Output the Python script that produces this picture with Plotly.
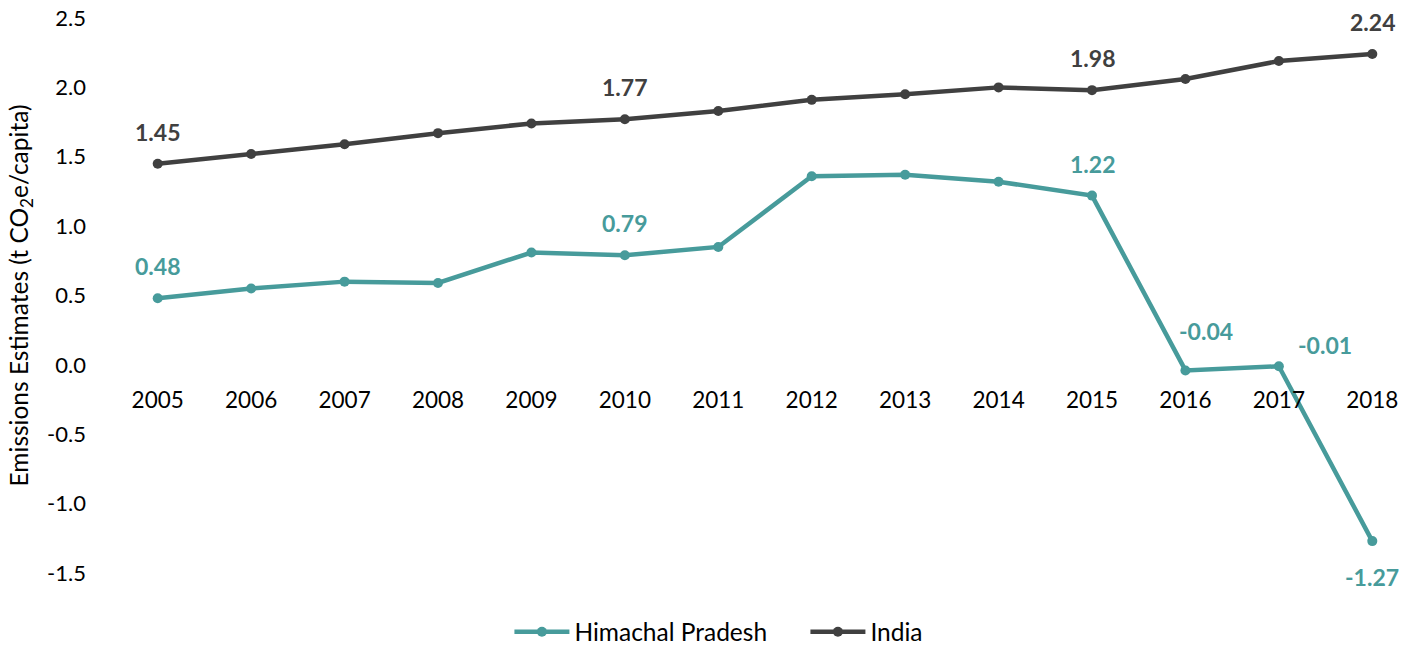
import plotly.graph_objects as go

# Per-capita emissions, t CO2e/capita
years = ["2005", "2006", "2007", "2008", "2009", "2010", "2011",
         "2012", "2013", "2014", "2015", "2016", "2017", "2018"]
himachal = [0.48, 0.55, 0.60, 0.59, 0.81, 0.79, 0.85,
            1.36, 1.37, 1.32, 1.22, -0.04, -0.01, -1.27]
india = [1.45, 1.52, 1.59, 1.67, 1.74, 1.77, 1.83,
         1.91, 1.95, 2.00, 1.98, 2.06, 2.19, 2.24]

# Years that carry a value label, per series
himachal_labelled = ["2005", "2010", "2015", "2016", "2017", "2018"]
india_labelled = ["2005", "2010", "2015", "2018"]

y_tickvals = [-1.5, -1.0, -0.5, 0.0, 0.5, 1.0, 1.5, 2.0, 2.5]
y_ticktext = ["-1.5", "-1.0", "-0.5", "0.0", "0.5", "1.0", "1.5", "2.0", "2.5"]

TEAL = "#479b9b"
DARK = "#404040"
FONT = "Lato"

fig = go.Figure()
fig.add_trace(go.Scatter(
    x=years, y=himachal, name="Himachal Pradesh", mode="lines+markers",
    line=dict(color=TEAL, width=4.5), marker=dict(color=TEAL, size=10),
))
fig.add_trace(go.Scatter(
    x=years, y=india, name="India", mode="lines+markers",
    line=dict(color=DARK, width=4.5), marker=dict(color=DARK, size=10),
))

# Offsets (px) of value labels relative to their points
label_shift = {
    ("hp", "2016"): (21, 39),
    ("hp", "2017"): (46, 21),
    ("hp", "2018"): (0, -36),
}

annotations = []
for key, series, labelled, color in (("hp", himachal, himachal_labelled, TEAL),
                                     ("in", india, india_labelled, DARK)):
    for yr in labelled:
        i = years.index(yr)
        v = series[i]
        dx, dy = label_shift.get((key, yr), (0, 32))
        annotations.append(dict(
            x=i, y=v, xref="x", yref="y", text=f"<b>{v:.2f}</b>",
            showarrow=False, xshift=dx, yshift=dy,
            font=dict(family=FONT, size=23, color=color),
        ))

fig.update_layout(
    width=1419, height=650,
    margin=dict(l=111, r=0, t=18, b=77, autoexpand=False),
    paper_bgcolor="white", plot_bgcolor="white",
    font=dict(family=FONT, size=22, color="#000000"),
    showlegend=True,
    legend=dict(orientation="h", xref="container", x=0.359, xanchor="left",
                yref="container", y=0.028, yanchor="middle",
                font=dict(family=FONT, size=24.5, color="#000000"),
                itemwidth=55, entrywidth=226, entrywidthmode="pixels",
                traceorder="normal"),
    annotations=annotations,
    xaxis=dict(
        type="category", range=[-0.5, 13.5], anchor="free", position=0.375,
        showgrid=False, zeroline=False, showline=False, ticks="",
        ticklabelstandoff=20, tickfont=dict(family=FONT, size=22.5),
    ),
    yaxis=dict(
        range=[-1.5, 2.5], tickvals=y_tickvals, ticktext=y_ticktext,
        showgrid=False, zeroline=False, showline=False, ticks="",
        ticklabelstandoff=24, tickfont=dict(family=FONT, size=22),
        title=dict(text="Emissions Estimates (t CO<sub>2</sub>e/capita)",
                   font=dict(family=FONT, size=24.5), standoff=11),
    ),
)

fig.write_html("out.html")
